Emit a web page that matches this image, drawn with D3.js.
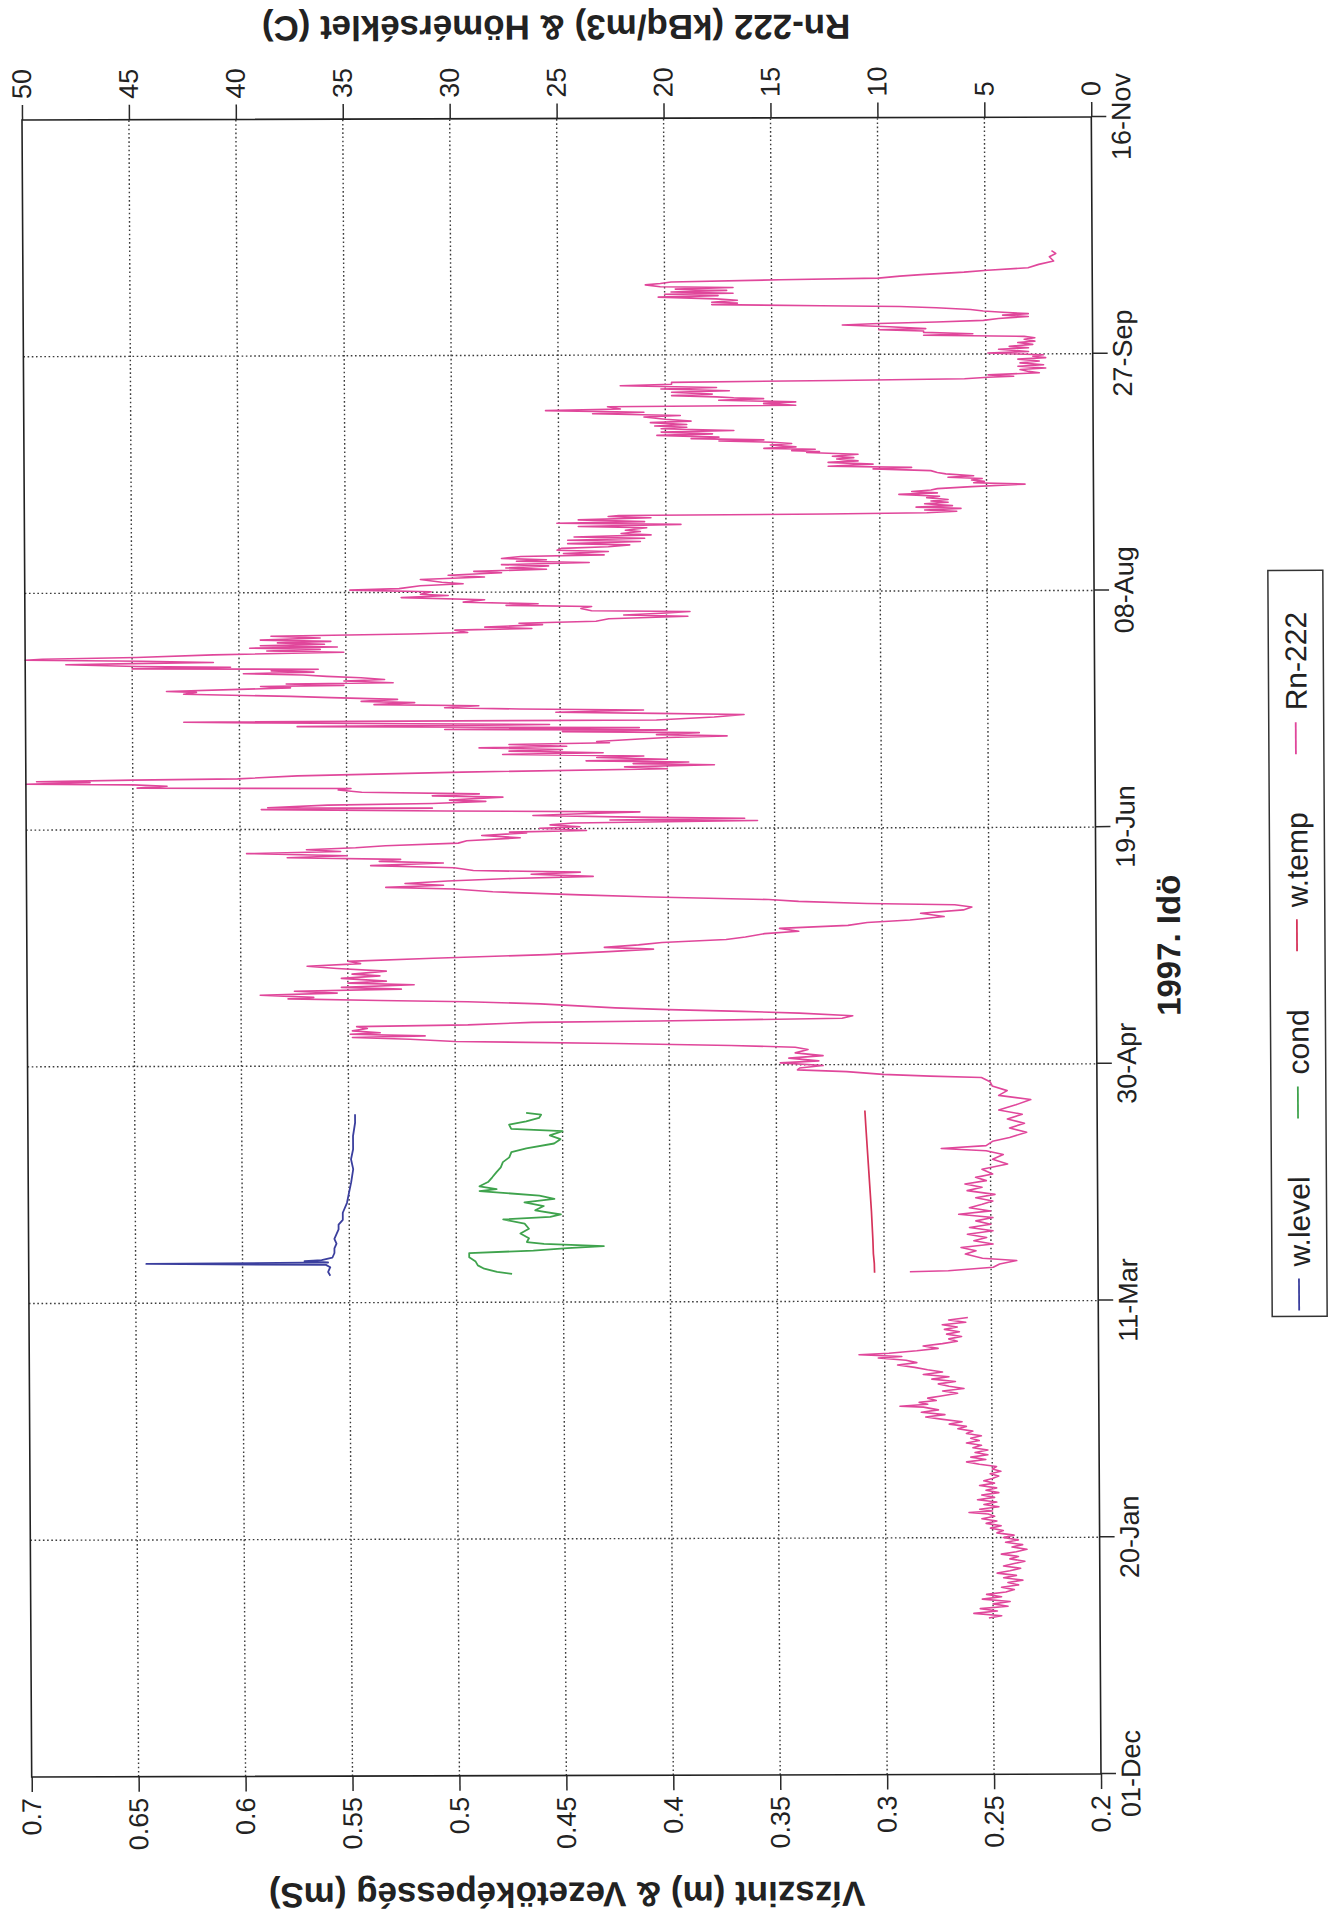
<!DOCTYPE html>
<html><head><meta charset="utf-8">
<script src="https://cdn.jsdelivr.net/npm/d3@7"></script>
<style>
body{margin:0;background:#fff}
svg{display:block}
text{font-family:"Liberation Sans",Arial,Helvetica,sans-serif;fill:#222}
</style>
</head><body>
<svg id="c" width="1336" height="1916"></svg>
<script>
// ---------- DATA ----------
const timeTickDays = [0, 50, 100, 150, 200, 250, 300, 350];          // days after 01-Dec-1996
const timeTickLabels = ["01-Dec","20-Jan","11-Mar","30-Apr","19-Jun","08-Aug","27-Sep","16-Nov"];
const leftTicks = [0.2,0.25,0.3,0.35,0.4,0.45,0.5,0.55,0.6,0.65,0.7];
const leftTickLabels = ["0.2","0.25","0.3","0.35","0.4","0.45","0.5","0.55","0.6","0.65","0.7"];
const rightTicks = [0,5,10,15,20,25,30,35,40,45,50];
const rightTickLabels = ["0","5","10","15","20","25","30","35","40","45","50"];
const legendNames = ["w.level","cond","w.temp","Rn-222"];
const seriesColors = ["#3b3f9e","#3fa34d","#d6335a","#e0479b"];

// w.level (m), left axis: [day, value]
const wlevel = [[105.7,0.559],[106.5,0.560],[107.5,0.559],[108.0,0.561],[108.3,0.645],[108.5,0.560],[108.8,0.571],[109.0,0.563],[109.5,0.558],[110.5,0.557],[111.5,0.557],[112.5,0.556],[113.5,0.557],[114.5,0.556],[115.5,0.555],[116.5,0.555],[117.5,0.553],[119.0,0.553],[121.1,0.551],[123.3,0.550],[125.4,0.549],[128.2,0.548],[130.3,0.549],[132.4,0.548],[135.2,0.548],[138.0,0.547],[139.8,0.547]];

// cond (mS), left axis
const cond = [[106.0,0.474],[106.4,0.481],[107.1,0.487],[107.8,0.490],[108.6,0.491],[109.5,0.494],[110.4,0.494],[110.9,0.464],[111.4,0.448],[111.8,0.431],[112.3,0.459],[112.7,0.467],[113.5,0.466],[114.5,0.470],[115.5,0.466],[116.6,0.468],[117.5,0.478],[118.0,0.456],[118.5,0.451],[119.4,0.463],[120.3,0.459],[121.1,0.468],[121.8,0.454],[122.5,0.461],[123.1,0.478],[123.5,0.489],[123.9,0.481],[124.5,0.489],[125.4,0.485],[126.4,0.483],[127.5,0.481],[128.5,0.479],[129.6,0.478],[130.6,0.475],[131.7,0.474],[132.5,0.467],[133.5,0.454],[134.4,0.451],[135.2,0.456],[136.1,0.450],[136.6,0.474],[137.5,0.475],[138.2,0.467],[138.9,0.461],[139.6,0.460],[140.0,0.467]];

// w.temp (C), right axis
const wtemp = [[106.0,10.45],[108.0,10.46],[110.0,10.5],[113.0,10.52],[116.0,10.55],[119.0,10.58],[122.0,10.62],[125.0,10.66],[128.0,10.7],[131.0,10.74],[134.0,10.78],[137.0,10.82],[140.3,10.86]];

// Rn-222 (kBq/m3), right axis, first period
const rnWinter = [[33.0,5.2],[33.5,4.6],[34.0,5.9],[34.5,4.8],[35.0,5.6],[35.5,4.3],[36.0,5.0],[36.5,4.2],[37.0,5.5],[37.5,4.6],[38.0,5.3],[38.5,4.4],[39.0,4.0],[39.5,4.6],[40.0,3.8],[40.5,4.3],[41.0,3.6],[41.5,4.5],[42.0,3.9],[42.5,4.8],[43.0,4.2],[43.5,3.7],[44.0,4.5],[44.5,4.0],[45.0,3.5],[45.5,4.2],[46.0,3.8],[46.5,4.6],[47.0,3.9],[47.5,3.4],[48.0,4.1],[48.5,3.6],[49.0,4.4],[49.5,3.8],[50.0,4.5],[50.5,4.0],[51.0,4.8],[51.5,4.5],[52.0,5.1],[52.5,4.6],[53.0,5.3],[53.5,4.8],[54.0,5.5],[54.5,4.9],[55.0,5.2],[55.3,6.1],[55.6,5.0],[56.0,5.6],[56.5,4.7],[57.0,5.4],[57.5,4.8],[58.0,5.7],[58.5,4.9],[59.0,5.5],[59.5,4.7],[60.0,5.3],[60.5,4.8],[61.0,5.6],[61.5,4.9],[62.0,5.4],[62.5,5.0],[63.0,4.7],[63.5,5.1],[64.0,4.6],[64.5,5.0],[65.0,4.8],[65.5,5.6],[66.0,6.2],[66.5,5.3],[67.0,6.0],[67.5,5.2],[68.0,5.8],[68.5,5.2],[69.0,5.9],[69.5,5.5],[70.0,6.2],[70.5,5.6],[71.0,6.0],[71.5,5.5],[72.0,6.2],[72.5,5.9],[73.0,6.6],[73.5,6.2],[74.0,7.0],[74.5,6.4],[75.0,7.3],[75.5,8.1],[76.0,7.2],[76.5,8.3],[77.0,7.5],[77.6,8.2],[77.8,9.3],[78.2,8.0],[78.6,8.4],[79.0,7.6],[79.5,8.0],[80.0,7.3],[80.5,6.6],[81.0,7.3],[81.5,6.3],[82.0,7.0],[82.5,7.5],[83.0,6.7],[83.5,7.8],[84.0,7.0],[84.5,8.2],[85.0,7.3],[85.5,8.0],[86.0,8.6],[86.5,9.4],[87.0,8.5],[87.5,9.0],[88.0,10.3],[88.3,9.2],[88.7,11.2],[89.0,9.8],[89.5,8.5],[90.0,7.5],[90.5,8.2],[91.0,7.3],[91.5,6.6],[92.0,7.0],[92.5,6.4],[93.0,7.1],[93.5,6.5],[94.0,7.2],[94.5,6.6],[95.0,7.3],[95.5,6.2],[96.0,7.0],[96.5,6.1]];

// Rn-222, second period
const rnMain = [[106.2,8.8],[106.4,7.0],[107.1,4.9],[107.8,4.6],[108.5,3.8],[109.0,5.4],[109.9,6.2],[110.6,5.7],[111.3,6.4],[112.0,4.9],[112.7,5.8],[113.4,5.2],[114.1,6.1],[114.8,4.9],[115.5,6.0],[116.2,5.0],[116.9,5.7],[117.6,4.9],[118.3,6.5],[119.0,5.0],[119.7,6.0],[120.4,5.4],[121.1,4.9],[121.8,5.7],[122.5,4.8],[123.3,6.1],[124.0,5.4],[124.7,6.2],[125.4,5.2],[126.1,5.7],[126.8,4.9],[127.8,5.4],[128.9,4.2],[129.9,4.9],[130.9,4.4],[131.7,5.2],[132.2,7.3],[132.8,5.2],[133.7,4.9],[134.5,4.1],[135.6,3.3],[136.5,4.1],[137.5,3.4],[138.4,4.2],[139.4,3.5],[140.3,4.6],[141.4,3.8],[142.5,3.1],[143.4,4.6],[144.4,4.2],[145.4,4.9],[146.3,5.0],[147.2,5.4],[147.5,7.8],[147.9,10.0],[148.5,11.7],[148.9,14.0],
[149.3,13.9],[149.8,12.8],[150.4,14.8],[150.8,13.0],[151.4,14.4],[151.9,12.8],[152.5,14.1],[153.2,13.5],[153.7,14.1],[154.1,17.1],[154.6,22.5],[155.1,30.0],[155.6,32.1],[156.0,34.8],[156.3,31.4],[156.7,34.9],[157.0,33.5],[157.4,34.8],[157.9,34.1],[158.3,34.6],[158.6,29.4],[159.1,26.4],[159.3,20.5],[159.8,11.9],[160.3,11.4],[160.9,13.9],[161.3,16.6],[161.7,20.0],[162.1,22.5],[163.0,26.0],[163.5,29.4],[163.8,33.5],[164.2,37.8],[164.5,36.6],[165.0,39.1],[165.4,35.5],[165.8,37.5],[166.2,32.5],[166.6,35.3],[167.1,31.9],[167.5,35.0],[167.9,33.2],[168.5,35.3],[169.0,33.5],[169.4,34.8],[170.0,33.2],[170.6,35.5],[171.1,36.9],[171.6,34.4],[172.1,35.0],[172.7,31.0],[173.4,25.7],[174.0,22.8],[174.5,20.7],[174.9,23.0],[175.4,21.4],[175.9,20.3],[176.5,17.3],[177.0,16.4],[177.7,15.5],[178.2,13.9],[178.8,14.8],[179.4,11.6],[180.0,10.7],[180.5,8.7],[181.2,7.1],[181.9,8.2],[182.6,6.2],[183.2,5.8],[183.7,6.6],[184.0,10.7],[184.5,13.9],[184.9,15.3],[185.5,20.7],[186.0,24.1],[186.7,28.2],[187.3,30.0],[187.7,33.2],[188.1,30.5],[188.5,32.3],[189.0,30.3],[189.5,27.3],[189.9,23.5],[190.4,26.4],[190.8,24.1],[191.2,29.1],[191.8,30.0],[192.3,33.9],[192.8,30.5],[193.2,33.5],[193.6,32.5],[194.0,37.8],[194.4,35.0],[194.9,39.7],[195.3,35.3],[195.7,36.9],[196.1,34.6],[196.5,33.2],[197.0,29.8],[197.5,29.4],[198.1,26.9],[198.6,28.7],[199.1,26.6],
[199.3,27.4],[199.6,23.8],[200.1,26.0],[200.4,24.1],[200.8,25.5],[201.2,24.4],[201.6,15.8],[201.8,22.7],[202.1,16.4],[202.4,21.6],[202.8,26.3],[203.1,24.4],[203.5,21.3],[203.8,30.4],[204.2,39.0],[204.4,31.0],[204.6,38.7],[205.1,35.9],[205.4,31.0],[205.8,28.5],[206.1,30.2],[206.7,27.7],[207.0,31.0],[207.4,28.8],[207.8,34.3],[208.3,35.4],[208.6,34.8],[208.8,44.8],[209.2,43.4],[209.5,45.0],[209.7,50.0],[210.0,47.0],[210.2,49.5],[210.5,45.0],[210.7,40.1],[211.3,37.3],[212.0,29.6],[212.6,20.0],[213.0,22.0],[213.4,17.8],[213.7,21.6],[214.0,19.0],[214.3,23.8],[214.6,20.0],[215.0,23.3],[215.3,21.1],[215.7,27.7],[216.0,23.0],[216.4,27.4],[216.7,24.9],[217.1,28.8],[217.4,24.7],[217.8,27.4],[218.1,22.7],[218.4,23.3],[218.9,21.3],[219.2,20.0],[219.5,17.2],[219.8,20.5],[220.2,18.5],[220.5,24.9],[220.8,20.0],[221.0,30.4],[221.3,21.3],[221.7,37.3],[222.0,25.5],[222.5,38.7],[222.7,42.6],[222.9,20.5],[223.5,17.8],[224.0,16.4],[224.3,20.5],[224.6,25.2],[225.0,21.1],[225.3,26.9],[225.6,30.4],[226.0,28.8],[226.3,33.7],[226.7,31.8],[227.0,34.3],[227.4,32.6],[227.8,35.7],[228.1,37.6],[228.6,42.6],[229.0,42.0],[229.2,43.4],[229.6,40.0],[229.9,37.6],[230.2,39.0],[230.4,35.1],[230.7,37.8],[230.9,32.8],[231.3,35.1],[231.6,33.2],[232.0,34.3],[232.3,35.9],[232.6,37.0],[232.9,39.8],[233.2,36.5],[233.5,38.5],[233.8,36.3],[234.0,45.0],[234.3,40.4],[234.5,44.8],[234.9,48.1],[235.1,45.0],[235.3,41.2],[235.6,44.5],[235.9,50.0],[236.1,49.2],[236.4,44.8],[236.9,41.2],[237.4,35.1],[237.7,38.7],[238.0,36.2],[238.3,39.5],[238.5,35.4],[238.8,39.0],[239.1,36.0],[239.4,38.2],[239.7,35.7],[240.0,39.0],[240.4,36.2],[240.8,38.5],[241.2,32.0],[241.5,29.3],[242.0,29.9],[242.3,26.3],[242.6,28.5],[243.1,25.8],[243.4,26.9],[243.8,23.3],[244.3,22.7],[244.6,20.5],[244.8,19.0],[245.1,22.0],[245.5,20.0],[245.8,18.9],[246.0,23.5],[246.5,24.0],[246.9,23.5],[247.2,27.5],[247.5,26.0],[247.9,29.5],[248.4,28.5],[248.9,32.4],[249.3,30.2],[249.6,31.5],[250.1,31.0],[250.5,34.8],[250.8,32.5],[251.4,31.5],[251.8,29.5],[252.1,30.5],[252.7,31.5],
[253.2,28.5],[253.6,30.2],[254.1,27.7],[254.4,29.0],[254.8,25.6],[255.1,27.5],[255.5,25.5],[255.8,27.7],[256.2,23.6],[256.5,27.0],[256.8,25.6],[257.1,27.7],[257.5,26.8],[257.8,22.9],[258.1,24.8],[258.5,22.7],[258.8,25.1],[259.2,24.9],[259.5,22.7],[259.9,21.7],[260.2,24.6],[260.6,21.2],[260.9,24.6],[261.3,21.0],[261.6,24.3],[262.0,20.7],[262.3,22.1],[262.7,21.2],[263.0,21.9],[263.5,20.9],[263.8,24.1],[264.2,19.3],[264.5,25.1],[264.8,21.0],[265.2,24.1],[265.6,20.7],[265.9,22.7],[266.1,22.2],[266.3,12.5],[266.5,7.8],[266.8,6.4],[267.1,7.9],[267.4,6.2],[267.7,8.3],[268.0,6.6],[268.4,7.9],[268.7,6.8],[269.0,7.6],[269.3,6.8],[269.7,7.8],[270.0,7.2],[270.4,9.1],[270.7,7.3],[271.0,8.5],[271.3,7.6],[271.6,7.3],[272.0,5.7],[272.5,3.2],[272.8,5.6],[273.1,5.1],[273.4,5.7],[273.7,5.2],[274.0,6.8],[274.3,5.6],[274.7,6.9],[275.0,7.3],[275.4,7.6],[275.8,10.3],[276.1,8.5],[276.4,12.4],[276.8,10.3],[277.2,12.4],[277.5,11.0],[277.9,12.0],[278.2,11.2],[278.5,12.2],[278.9,11.0],[279.3,13.4],[279.5,12.8],[279.7,14.1],[280.0,13.0],[280.2,15.4],[280.5,13.9],[280.9,15.1],[281.2,14.1],[281.5,15.0],[281.8,17.5],[282.0,15.4],[282.3,18.8],[282.6,17.5],[283.0,20.4],[283.3,17.8],[283.7,20.2],[284.0,16.8],[284.4,20.2],[284.7,19.0],[285.0,20.5],[285.3,19.0],[285.7,20.7],[286.0,18.8],[286.4,20.0],[286.9,21.0],[287.2,19.3],[287.6,23.4],[287.9,21.0],[288.3,25.6],[288.6,22.1],[289.1,22.7],[289.3,13.9],[289.7,15.4],[290.0,13.9],[290.4,17.5],[290.7,15.4],[290.9,16.8],[291.1,17.6],[291.4,19.7],[291.7,17.8],[292.1,19.7],[292.4,17.0],[292.8,20.2],[293.1,17.6],[293.5,22.1],[293.8,19.7],[294.2,19.7],[294.5,12.0],[294.8,6.0],[295.1,4.9],[295.3,3.7],[295.6,4.9],[296.0,2.5],[296.3,3.0],[296.7,3.4],[297.0,2.2],[297.4,3.5],[297.7,2.3],[298.1,3.4],[298.5,2.5],[298.9,3.5],[299.2,2.2],[299.5,2.8],[299.8,2.3],[300.2,4.9],[300.5,3.0],[301.0,4.4],[301.3,3.0],[301.6,3.9],[302.0,2.8],[302.4,3.5],[302.7,2.7],[303.1,3.2],[303.4,2.7],[303.7,3.2],[304.0,7.9],[304.3,5.6],[304.6,7.9],[304.9,7.9],[305.2,10.0],[305.4,7.8],[305.8,9.5],[306.2,11.7],[306.5,10.0],[306.8,7.3],[307.1,5.1],[307.5,4.4],[307.9,3.0],[308.2,4.2],[308.5,3.0],[308.8,4.2],[309.1,5.1],[309.4,5.7],[309.8,7.3],[310.1,9.0],[310.3,12.7],[310.6,17.8],[310.9,16.6],[311.1,17.8],[311.5,16.6],[311.8,17.6],[312.2,20.3],[312.5,17.5],[312.8,20.0],[313.0,16.8],[313.3,19.7],[313.6,17.1],[313.9,19.5],[314.2,16.8],[314.4,20.2],[314.8,20.9],[315.1,20.2],[315.4,19.7],[315.8,14.6],[316.1,10.0],[316.5,9.0],[316.8,8.0],[317.3,6.0],[317.7,4.9],[318.2,3.0],[318.9,2.5],[319.6,1.8],[320.5,2.0],[321.2,1.7],[321.8,1.9]];

// ---------- LAYOUT ----------
const W = 1657, H = 1070;             // plot size in the chart's own (unrotated) frame
// the printed chart is turned a quarter turn counter-clockwise (with the scan's slight skew)
const M = [ (22-31.7)/W, (120-1777)/W, (1101-31.7)/H, (1774-1777)/H, 31.7, 1777 ];

const svg = d3.select("#c");
svg.append("rect").attr("width",1336).attr("height",1916).attr("fill","#fff");
const g = svg.append("g").attr("transform", `matrix(${M.join(",")})`);

const x = d3.scaleLinear().domain([0,350]).range([0,W]);
const yL = d3.scaleLinear().domain([0.2,0.7]).range([H,0]);
const yR = d3.scaleLinear().domain([0,50]).range([H,0]);

// grid
const grid = g.append("g").attr("stroke","#3a3a3a").attr("stroke-width",1.4).attr("stroke-dasharray","1.6,2.6");
grid.selectAll(".gv").data(timeTickDays.slice(1,-1)).join("line")
  .attr("x1",d=>x(d)).attr("x2",d=>x(d)).attr("y1",0).attr("y2",H);
grid.selectAll(".gh").data(rightTicks.slice(1,-1)).join("line")
  .attr("x1",0).attr("x2",W).attr("y1",d=>yR(d)).attr("y2",d=>yR(d));

// axes
function styleAxis(sel){
  sel.select(".domain").remove();
  sel.selectAll(".tick line").attr("stroke","#2a2a2a").attr("stroke-width",1.5);
  sel.selectAll(".tick text").attr("font-size",27).attr("fill","#222")
     .attr("font-family","Liberation Sans, Arial, sans-serif");
}
g.append("g").attr("transform",`translate(0,${H})`)
  .call(d3.axisBottom(x).tickValues(timeTickDays).tickFormat((d,i)=>timeTickLabels[i]).tickSize(15).tickPadding(5).tickSizeOuter(0))
  .call(styleAxis);
g.append("g")
  .call(d3.axisLeft(yL).tickValues(leftTicks).tickFormat((d,i)=>leftTickLabels[i]).tickSize(15).tickPadding(6).tickSizeOuter(0))
  .call(styleAxis);
g.append("g").attr("transform",`translate(${W},0)`)
  .call(d3.axisRight(yR).tickValues(rightTicks).tickFormat((d,i)=>rightTickLabels[i]).tickSize(15).tickPadding(6).tickSizeOuter(0))
  .call(styleAxis);

// series
const lineL = d3.line().x(d=>x(d[0])).y(d=>yL(d[1]));
const lineR = d3.line().x(d=>x(d[0])).y(d=>yR(d[1]));
const series = [
  {data: rnWinter, gen: lineR, c: seriesColors[3], w: 1.6},
  {data: rnMain,   gen: lineR, c: seriesColors[3], w: 1.6},
  {data: wtemp,    gen: lineR, c: seriesColors[2], w: 1.7},
  {data: cond,     gen: lineL, c: seriesColors[1], w: 1.8},
  {data: wlevel,   gen: lineL, c: seriesColors[0], w: 1.8}
];
series.forEach(s => g.append("path").attr("d", s.gen(s.data)).attr("fill","none")
  .attr("stroke", s.c).attr("stroke-width", s.w).attr("stroke-linejoin","round"));

// frame
g.append("rect").attr("width",W).attr("height",H).attr("fill","none").attr("stroke","#222").attr("stroke-width",1.6);

// titles
g.append("text").attr("x",W/2).attr("y",H+84).attr("text-anchor","middle")
  .attr("font-size",33).attr("font-weight","bold").text("1997. Idö");
g.append("text").attr("transform",`translate(-107,${H/2}) rotate(-90)`).attr("text-anchor","middle")
  .attr("font-size",35).attr("font-weight","bold").text("Vízszint (m) & Vezetöképesség (mS)");
g.append("text").attr("transform",`translate(${W+103},${H/2}) rotate(-90)`).attr("text-anchor","middle")
  .attr("font-size",35).attr("font-weight","bold").text("Rn-222 (kBq/m3) & Hömérséklet (C)");

// legend
const lg = g.append("g").attr("transform",`translate(457,${H+174})`);
lg.append("rect").attr("width",746).attr("height",55).attr("fill","#fff").attr("stroke","#333").attr("stroke-width",1.5);
let cx = 6;
legendNames.forEach((n,i)=>{
  lg.append("line").attr("x1",cx).attr("x2",cx+32).attr("y1",27).attr("y2",27)
    .attr("stroke",seriesColors[i]).attr("stroke-width",1.8);
  const t = lg.append("text").attr("x",cx+44).attr("y",38).attr("font-size",30).text(n);
  cx += 44 + t.node().getComputedTextLength() + 58;
});
</script>
</body></html>
